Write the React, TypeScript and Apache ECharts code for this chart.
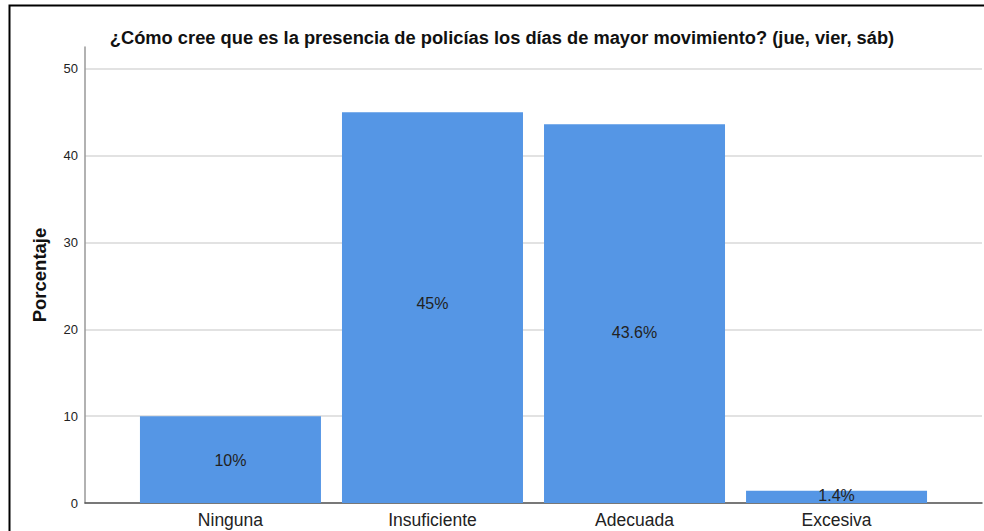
import React, { useEffect, useRef } from "react";
import * as echarts from "echarts";

const categories = ["Ninguna", "Insuficiente", "Adecuada", "Excesiva"];
const values = [10, 45, 43.6, 1.4];
const valueLabels = ["10%", "45%", "43.6%", "1.4%"];
const labelOffsets = [1, -4, 19, -1];
const yTicks = [0, 10, 20, 30, 40, 50];

const FONT = "'Liberation Sans', Arial, sans-serif";

export default function App() {
  const ref = useRef<HTMLDivElement>(null);
  useEffect(() => {
    document.body.style.margin = "0";
    const chart = echarts.init(ref.current!, undefined, { renderer: "svg" });
    chart.setOption({
      animation: false,
      backgroundColor: "#ffffff",
      title: {
        text: "¿Cómo cree que es la presencia de policías los días de mayor movimiento? (jue, vier, sáb)",
        left: 497,
        top: 23,
        textAlign: "center",
        textStyle: { fontFamily: FONT, fontWeight: "bold", fontSize: 18.3, color: "#111" },
      },
      grid: { left: 85, right: 2, top: 47, bottom: 28 },
      xAxis: {
        type: "value",
        min: -0.72,
        max: 3.72,
        splitLine: { show: false },
        axisTick: { show: false },
        axisLine: { show: true, onZero: false, lineStyle: { color: "#555", width: 1.5 } },
        axisLabel: {
          customValues: [0, 1, 2, 3],
          formatter: (v: number) => categories[Math.round(v)] ?? "",
          fontFamily: FONT,
          fontSize: 17.5,
          color: "#222",
          margin: 8,
        },
      },
      yAxis: {
        type: "value",
        min: 0,
        max: 52.5,
        interval: 10,
        name: "Porcentaje",
        nameLocation: "middle",
        nameGap: 36,
        nameTextStyle: { fontFamily: FONT, fontWeight: "bold", fontSize: 18.5, color: "#111" },
        axisLine: { show: true, onZero: false, lineStyle: { color: "#999", width: 1.5 } },
        axisTick: { show: false },
        axisLabel: {
          formatter: (v: number) => (yTicks.includes(v) ? String(v) : ""),
          fontFamily: FONT,
          fontSize: 13,
          color: "#222",
          margin: 7,
        },
        splitLine: { show: true, showMaxLine: false, lineStyle: { color: "#d8d8d8", width: 1.5 } },
      },
      series: [
        {
          type: "bar",
          barWidth: 181,
          data: values.map((v, i) => ({
            value: [i, v],
            label: {
              show: true,
              position: "inside",
              offset: [0, labelOffsets[i]],
              formatter: valueLabels[i],
            },
          })),
          itemStyle: { color: "#5596E5" },
          label: { fontFamily: FONT, fontSize: 16, color: "#222" },
        },
      ],
      graphic: [
        {
          type: "rect",
          shape: { x: 9.5, y: 5.5, width: 1200, height: 800 },
          style: { fill: "none", stroke: "#000", lineWidth: 2 },
          silent: true,
        },
      ],
    });
    return () => chart.dispose();
  }, []);
  return <div ref={ref} style={{ width: 984, height: 531 }} />;
}
